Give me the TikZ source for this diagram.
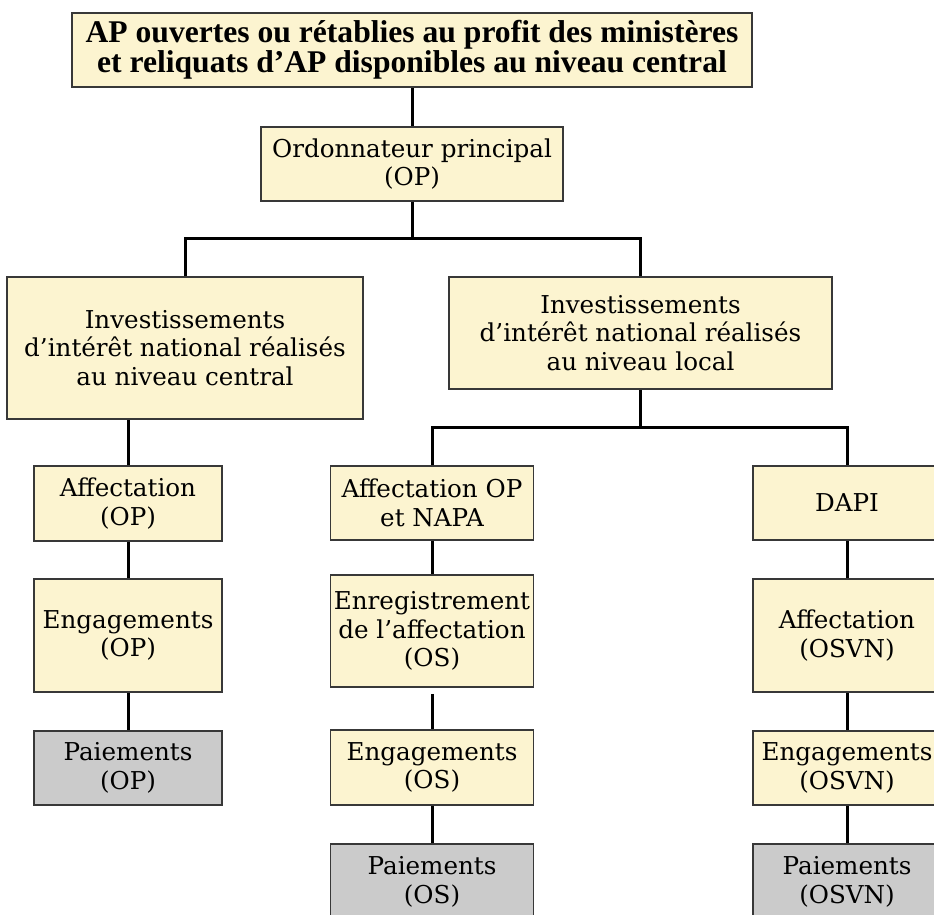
\documentclass[tikz,border=0pt]{standalone}
\usepackage{fontspec}
\setmainfont{DejaVu Serif}
\newfontfamily\topfont{Liberation Serif}
\definecolor{boxyellow}{HTML}{FCF4D0}
\definecolor{boxgray}{HTML}{CBCBCB}
\definecolor{boxedge}{HTML}{383838}
\begin{document}
\begin{tikzpicture}[x=1pt,y=-1pt,
  box/.style={draw=boxedge, line width=1.8pt, fill=boxyellow, align=center, inner sep=0pt,
    font=\fontsize{24.6}{28.5}\selectfont},
  paybox/.style={box, fill=boxgray},
  conn/.style={draw=black, line width=3pt}]
\useasboundingbox (0,0) rectangle (934,914);
\clip (0,0) rectangle (934,914);
% top levels
\node[box, minimum width=680pt, minimum height=74pt, font=\topfont\bfseries\fontsize{31.6}{27.5}\selectfont] (top) at (412,50)
  {AP ouvertes ou rétablies au profit des ministères\\et reliquats d’AP disponibles au niveau central};
\node[box, minimum width=302pt, minimum height=74pt] (ordo) at (412,164) {Ordonnateur principal\\(OP)};
\node[box, minimum width=356pt, minimum height=142pt] (invL) at (185,348)
  {Investissements\\d’intérêt national réalisés\\au niveau central};
\node[box, minimum width=383pt, minimum height=112pt] (invR) at (640.5,333)
  {Investissements\\d’intérêt national réalisés\\au niveau local};
% left column
\node[box, minimum width=188pt, minimum height=75pt] (affOP) at (128,503.5) {Affectation\\(OP)};
\node[box, minimum width=188pt, minimum height=113pt] (engOP) at (128,635.5) {Engagements\\(OP)};
\node[paybox, minimum width=188pt, minimum height=74pt] (paiOP) at (128,768) {Paiements\\(OP)};
% middle column
\node[box, minimum width=203pt, minimum height=74pt] (affNAPA) at (432,503) {Affectation OP\\et NAPA};
\node[box, minimum width=203pt, minimum height=112pt] (enreg) at (432,631) {Enregistrement\\de l’affectation\\(OS)};
\node[box, minimum width=203pt, minimum height=75pt] (engOS) at (432,767.5) {Engagements\\(OS)};
\node[paybox, minimum width=203pt, minimum height=76pt] (paiOS) at (432,882) {Paiements\\(OS)};
% right column
\node[box, minimum width=188pt, minimum height=74pt] (dapi) at (847,503) {DAPI};
\node[box, minimum width=188pt, minimum height=113pt] (affOSVN) at (847,635.5) {Affectation\\(OSVN)};
\node[box, minimum width=188pt, minimum height=74pt] (engOSVN) at (847,768) {Engagements\\(OSVN)};
\node[paybox, minimum width=188pt, minimum height=76pt] (paiOSVN) at (847,882) {Paiements\\(OSVN)};
% connectors
\coordinate (b1) at (412,238);
\coordinate (b2) at (640.5,427);
\draw[conn] (top) -- (ordo);
\draw[conn] (ordo.south) -- (b1);
\draw[conn] (invL.north) |- (b1) -| (invR.north);
\draw[conn] (affOP.north) -- (affOP.north |- invL.south);
\draw[conn] (affOP) -- (engOP);
\draw[conn] (engOP) -- (paiOP);
\draw[conn] (invR.south) -- (b2);
\draw[conn] (affNAPA.north) |- (b2) -| (dapi.north);
\draw[conn] (affNAPA) -- (enreg);
\draw[conn, shorten <=6pt] (enreg) -- (engOS);
\draw[conn] (engOS) -- (paiOS);
\draw[conn] (dapi) -- (affOSVN);
\draw[conn] (affOSVN) -- (engOSVN);
\draw[conn] (engOSVN) -- (paiOSVN);
\end{tikzpicture}
\end{document}
